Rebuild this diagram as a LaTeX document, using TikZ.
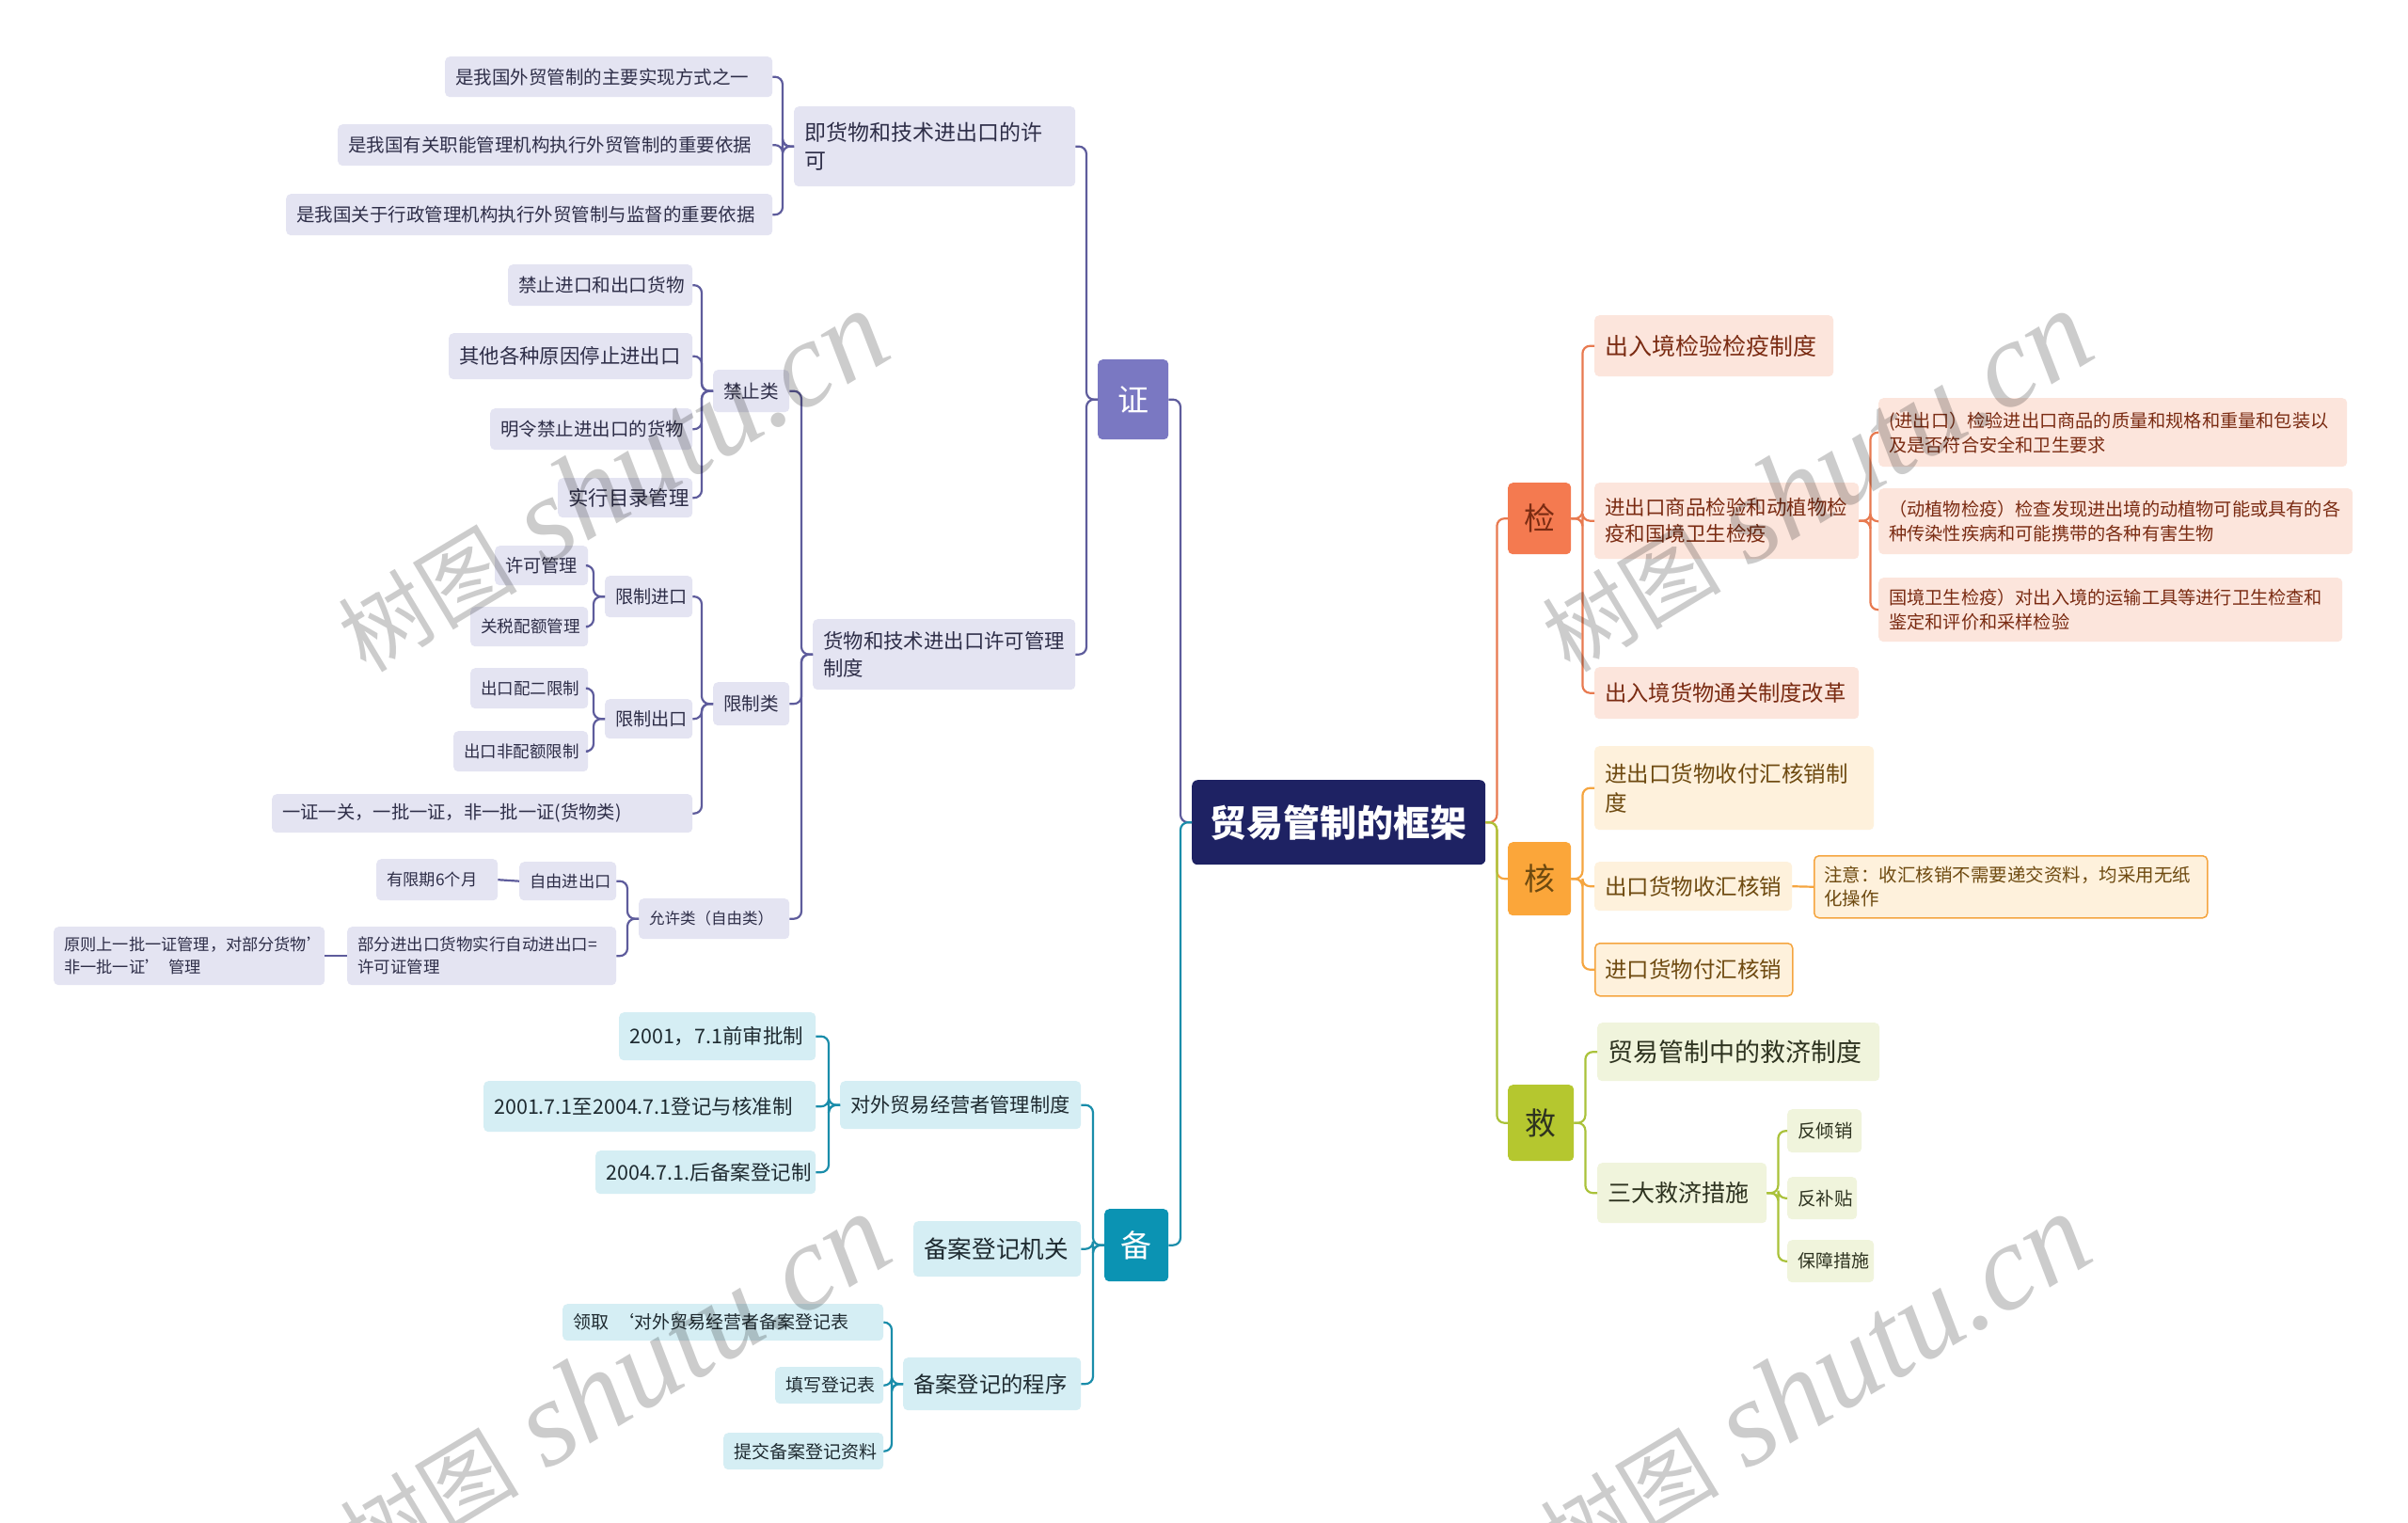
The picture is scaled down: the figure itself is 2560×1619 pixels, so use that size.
\documentclass[tikz,border=0pt]{standalone}
\usepackage{fontspec}
\setmainfont{Noto Sans CJK SC}
\newfontfamily\wmfont{Liberation Serif}
\definecolor{pvfill}{HTML}{E4E4F2}
\definecolor{pvtext}{HTML}{2E2E48}
\definecolor{pvline}{HTML}{5E5C9C}
\definecolor{tlfill}{HTML}{D5EEF4}
\definecolor{tltext}{HTML}{1E2A30}
\definecolor{tlline}{HTML}{1A8DAA}
\definecolor{jfill}{HTML}{FCE5DC}
\definecolor{jtext}{HTML}{7A2B12}
\definecolor{jline}{HTML}{E87A50}
\definecolor{hfill}{HTML}{FEF1DC}
\definecolor{htext}{HTML}{6E4A10}
\definecolor{hline}{HTML}{F5A540}
\definecolor{gfill}{HTML}{F0F4DC}
\definecolor{gtext}{HTML}{2E3320}
\definecolor{gline}{HTML}{AAC23A}
\definecolor{rootc}{HTML}{1E2263}
\definecolor{zhengc}{HTML}{7A78C2}
\definecolor{beic}{HTML}{0B93B3}
\definecolor{jianc}{HTML}{F47A50}
\definecolor{hec}{HTML}{FBA63A}
\definecolor{jiuc}{HTML}{B5C72F}
\newcommand\fs[2]{\fontsize{#1}{#2}\selectfont}
% name, box style, text style, x1, y1, x2, y2, text
\newcommand\Bx[8]{%
  \node[#2, minimum width=#6-#4, minimum height=#7-#5, anchor=north west] (#1) at (#4,#5) {};
  \node[#3, anchor=west, align=left, inner sep=0pt] at ([xshift=11pt]#1.west) {#8};}
\newcommand\Bc[8]{%
  \node[#2, minimum width=#6-#4, minimum height=#7-#5, anchor=north west] (#1) at (#4,#5) {};
  \node[#3, inner sep=0pt] at (#1.center) {#8};}
\newcommand\Lk[3]{\draw[#1] (#2.west) -- ++(-12,0) |- (#3.east);}
\newcommand\Rk[3]{\draw[#1] (#2.east) -- ++(12,0) |- (#3.west);}
\tikzset{
  box/.style={rounded corners=5pt, inner sep=0pt, draw=none},
  pv/.style={box, fill=pvfill},
  tl/.style={box, fill=tlfill},
  jb/.style={box, fill=jfill},
  hb/.style={box, fill=hfill},
  hbo/.style={box, fill=hfill, draw=hline, line width=1.5pt},
  gb/.style={box, fill=gfill},
  pvt/.style={text=pvtext},
  tlt/.style={text=tltext},
  jt/.style={text=jtext},
  ht/.style={text=htext},
  gt/.style={text=gtext},
  conn/.style={line width=2.2pt, rounded corners=8pt},
  pvl/.style={conn, draw=pvline},
  tll/.style={conn, draw=tlline},
  jl/.style={conn, draw=jline},
  hl/.style={conn, draw=hline},
  gl/.style={conn, draw=gline},
  wm/.style={rotate=31, text=black, opacity=0.2, inner sep=0pt}
}
\begin{document}
\begin{tikzpicture}[x=1pt, y=-1pt]
\useasboundingbox (0,0) rectangle (2560,1619);
\fill[white] (0,0) rectangle (2560,1619);

% root and main branches
\Bc{root}{box, fill=rootc, rounded corners=6pt}{text=white, font=\fs{39}{44}\bfseries}{1267}{829}{1579}{919}{贸易管制的框架}
\Bc{zheng}{box, fill=zhengc}{text=white, font=\fs{33}{36}}{1167}{382}{1242}{467}{证}
\Bc{bei}{box, fill=beic}{text=white, font=\fs{33}{36}}{1174}{1285}{1242}{1362}{备}
\Bc{jian}{box, fill=jianc}{text=jtext, font=\fs{33}{36}}{1603}{513}{1670}{589}{检}
\Bc{he}{box, fill=hec}{text=htext, font=\fs{33}{36}}{1603}{895}{1670}{973}{核}
\Bc{jiu}{box, fill=jiuc}{text=gtext, font=\fs{33}{36}}{1603}{1153}{1673}{1234}{救}

% 证 branch
\Bx{zb1}{pv}{pvt, font=\fs{23}{30}}{844}{113}{1143}{198}{即货物和技术进出口的许\\可}
\Bx{zb1a}{pv}{pvt, font=\fs{19.5}{25}}{473}{60}{821}{103}{是我国外贸管制的主要实现方式之一}
\Bx{zb1b}{pv}{pvt, font=\fs{19.5}{25}}{359}{132}{821}{176}{是我国有关职能管理机构执行外贸管制的重要依据}
\Bx{zb1c}{pv}{pvt, font=\fs{19.5}{25}}{304}{206}{821}{250}{是我国关于行政管理机构执行外贸管制与监督的重要依据}
\Bx{zb2}{pv}{pvt, font=\fs{21.4}{29}}{864}{658}{1143}{733}{货物和技术进出口许可管理\\制度}
\Bx{jz}{pv}{pvt, font=\fs{19.6}{25}}{758}{393}{839}{438}{禁止类}
\Bx{jz1}{pv}{pvt, font=\fs{19.6}{25}}{540}{281}{736}{325}{禁止进口和出口货物}
\Bx{jz2}{pv}{pvt, font=\fs{21.4}{27}}{477}{354}{736}{403}{其他各种原因停止进出口}
\Bx{jz3}{pv}{pvt, font=\fs{19.5}{25}}{521}{434}{736}{478}{明令禁止进出口的货物}
\Bx{jz4}{pv}{pvt, font=\fs{21.4}{27}}{593}{508}{736}{550}{实行目录管理}
\Bx{xz}{pv}{pvt, font=\fs{19.6}{25}}{758}{725}{839}{771}{限制类}
\Bx{xzj}{pv}{pvt, font=\fs{19.2}{25}}{643}{612}{736}{656}{限制进口}
\Bx{xzj1}{pv}{pvt, font=\fs{19.2}{25}}{526}{580}{625}{622}{许可管理}
\Bx{xzj2}{pv}{pvt, font=\fs{17.6}{23}}{500}{645}{625}{687}{关税配额管理}
\Bx{xzc}{pv}{pvt, font=\fs{19.2}{25}}{643}{743}{736}{785}{限制出口}
\Bx{xzc1}{pv}{pvt, font=\fs{17.5}{23}}{500}{710}{625}{753}{出口配二限制}
\Bx{xzc2}{pv}{pvt, font=\fs{17.5}{23}}{482}{777}{625}{820}{出口非配额限制}
\Bx{xz3}{pv}{pvt, font=\fs{19.3}{25}}{289}{844}{736}{885}{一证一关，一批一证，非一批一证(货物类)}
\Bx{yx}{pv}{pvt, font=\fs{16.5}{22}}{679}{955}{839}{998}{允许类（自由类）}
\Bx{yx1}{pv}{pvt, font=\fs{17.3}{22}}{552}{916}{655}{957}{自由进出口}
\Bx{yx1a}{pv}{pvt, font=\fs{17.3}{22}}{400}{913}{529}{957}{有限期6个月}
\Bx{yx2}{pv}{pvt, font=\fs{17.5}{24}}{369}{985}{655}{1047}{部分进出口货物实行自动进出口=\\许可证管理}
\Bx{yx2a}{pv}{pvt, font=\fs{17.2}{24}}{57}{985}{345}{1047}{原则上一批一证管理，对部分货物'\\非一批一证'\ \ 管理}

% 备 branch
\Bx{ba}{tl}{tlt, font=\fs{21.2}{27}}{893}{1149}{1149}{1200}{对外贸易经营者管理制度}
\Bx{ba1}{tl}{tlt, font=\fs{21.5}{27}}{658}{1076}{867}{1127}{2001，7.1前审批制}
\Bx{ba2}{tl}{tlt, font=\fs{21.5}{27}}{514}{1149}{867}{1203}{2001.7.1至2004.7.1登记与核准制}
\Bx{ba3}{tl}{tlt, font=\fs{21.5}{27}}{633}{1223}{867}{1269}{2004.7.1.后备案登记制}
\Bx{bb}{tl}{tlt, font=\fs{25.6}{30}}{971}{1298}{1149}{1357}{备案登记机关}
\Bx{bc}{tl}{tlt, font=\fs{23.3}{28}}{960}{1443}{1149}{1499}{备案登记的程序}
\Bx{bc1}{tl}{tlt, font=\fs{19}{24}}{598}{1386}{939}{1425}{领取\ \ ‘对外贸易经营者备案登记表}
\Bx{bc2}{tl}{tlt, font=\fs{19}{24}}{824}{1453}{939}{1492}{填写登记表}
\Bx{bc3}{tl}{tlt, font=\fs{19}{24}}{769}{1523}{939}{1562}{提交备案登记资料}

% 检 branch
\Bx{ja}{jb}{jt, font=\fs{25}{30}}{1695}{335}{1949}{400}{出入境检验检疫制度}
\Bx{jbb}{jb}{jt, font=\fs{21.5}{28}}{1695}{513}{1976}{594}{进出口商品检验和动植物检\\疫和国境卫生检疫}
\Bx{jb1}{jb}{jt, font=\fs{19.2}{26}}{1997}{423}{2495}{496}{(进出口）检验进出口商品的质量和规格和重量和包装以\\及是否符合安全和卫生要求}
\Bx{jb2}{jb}{jt, font=\fs{19.2}{26}}{1997}{519}{2501}{589}{（动植物检疫）检查发现进出境的动植物可能或具有的各\\种传染性疾病和可能携带的各种有害生物}
\Bx{jb3}{jb}{jt, font=\fs{19.2}{26}}{1997}{614}{2490}{682}{国境卫生检疫）对出入境的运输工具等进行卫生检查和\\鉴定和评价和采样检验}
\Bx{jc}{jb}{jt, font=\fs{23.3}{28}}{1695}{709}{1976}{764}{出入境货物通关制度改革}

% 核 branch
\Bx{ha}{hb}{ht, font=\fs{23.5}{31}}{1695}{793}{1992}{882}{进出口货物收付汇核销制\\度}
\Bx{hbb}{hb}{ht, font=\fs{23.5}{28}}{1695}{916}{1905}{968}{出口货物收汇核销}
\Bx{hb1}{hbo}{ht, font=\fs{19.5}{25}}{1928}{909}{2346}{975}{注意：收汇核销不需要递交资料，均采用无纸\\化操作}
\Bx{hc}{hbo}{ht, font=\fs{23.5}{28}}{1695}{1002}{1905}{1058}{进口货物付汇核销}

% 救 branch
\Bx{ga}{gb}{gt, font=\fs{27}{32}}{1698}{1087}{1998}{1149}{贸易管制中的救济制度}
\Bx{gbb}{gb}{gt, font=\fs{25}{30}}{1698}{1236}{1878}{1300}{三大救济措施}
\Bx{gb1}{gb}{gt, font=\fs{19.5}{24}}{1900}{1179}{1979}{1225}{反倾销}
\Bx{gb2}{gb}{gt, font=\fs{19.5}{24}}{1900}{1251}{1974}{1296}{反补贴}
\Bx{gb3}{gb}{gt, font=\fs{19}{24}}{1900}{1318}{1992}{1363}{保障措施}

% connectors
\Lk{pvl}{root}{zheng}
\Lk{tll}{root}{bei}
\Rk{jl}{root}{jian}
\Rk{hl}{root}{he}
\Rk{gl}{root}{jiu}

\Lk{pvl}{zheng}{zb1}
\Lk{pvl}{zheng}{zb2}
\Lk{pvl}{zb1}{zb1a}
\Lk{pvl}{zb1}{zb1b}
\Lk{pvl}{zb1}{zb1c}
\Lk{pvl}{zb2}{jz}
\Lk{pvl}{zb2}{xz}
\Lk{pvl}{zb2}{yx}
\Lk{pvl}{jz}{jz1}
\Lk{pvl}{jz}{jz2}
\Lk{pvl}{jz}{jz3}
\Lk{pvl}{jz}{jz4}
\Lk{pvl}{xz}{xzj}
\Lk{pvl}{xz}{xzc}
\Lk{pvl}{xz}{xz3}
\Lk{pvl}{xzj}{xzj1}
\Lk{pvl}{xzj}{xzj2}
\Lk{pvl}{xzc}{xzc1}
\Lk{pvl}{xzc}{xzc2}
\Lk{pvl}{yx}{yx1}
\Lk{pvl}{yx}{yx2}
\draw[pvl] (yx1.west) -- (yx1a.east);
\draw[pvl] (yx2.west) -- (yx2a.east);

\Lk{tll}{bei}{ba}
\Lk{tll}{bei}{bb}
\Lk{tll}{bei}{bc}
\Lk{tll}{ba}{ba1}
\Lk{tll}{ba}{ba2}
\Lk{tll}{ba}{ba3}
\Lk{tll}{bc}{bc1}
\Lk{tll}{bc}{bc2}
\Lk{tll}{bc}{bc3}

\Rk{jl}{jian}{ja}
\Rk{jl}{jian}{jbb}
\Rk{jl}{jian}{jc}
\Rk{jl}{jbb}{jb1}
\Rk{jl}{jbb}{jb2}
\Rk{jl}{jbb}{jb3}

\Rk{hl}{he}{ha}
\Rk{hl}{he}{hbb}
\Rk{hl}{he}{hc}
\draw[hl] (hbb.east) -- (hb1.west);

\Rk{gl}{jiu}{ga}
\Rk{gl}{jiu}{gbb}
\Rk{gl}{gbb}{gb1}
\Rk{gl}{gbb}{gb2}
\Rk{gl}{gbb}{gb3}

% watermarks
\foreach \wx/\wy in {650/512, 1930/512, 652/1472, 1928/1472}{
  \node[wm] at (\wx,\wy) {\fs{95}{100}树图\hspace{30pt}{\wmfont\itshape\fs{130}{130}shutu.cn}};
}
\end{tikzpicture}
\end{document}
